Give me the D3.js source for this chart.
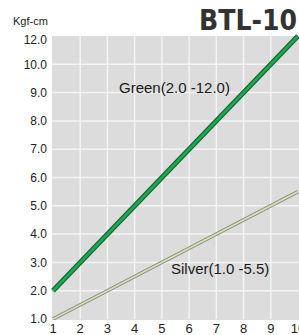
<!DOCTYPE html>
<html>
<head>
<meta charset="utf-8">
<script src="https://cdn.jsdelivr.net/npm/d3@7"></script>
<style>
  html, body { margin: 0; padding: 0; background: #fff; }
  svg { display: block; }
</style>
</head>
<body>
<div id="chart"></div>
<script>
// data
const xTicks = [1, 2, 3, 4, 5, 6, 7, 8, 9, 10];
const yTicks = [1, 2, 3, 4, 5, 6, 7, 8, 9, 10, 12];
const yTickLabels = ['1.0', '2.0', '3.0', '4.0', '5.0', '6.0', '7.0', '8.0', '9.0', '10.0', '12.0'];
const greenX = [1, 10];
const greenY = [2.0, 12.0];
const silverX = [1, 10];
const silverY = [1.0, 5.5];

const W = 299, H = 335;
const mLeft = 53, mRight = 298, mTop = 36, mBottom = 319;

const svg = d3.select('#chart').append('svg')
  .attr('width', W).attr('height', H);

const x = d3.scaleLinear().domain([1, 10]).range([mLeft, mRight]);
// the axis puts 12.0 one cell above 10.0
const unit = (mBottom - mTop) / 10;
const y = d3.scaleLinear().domain([1, 10, 12]).range([mBottom, mBottom - 9 * unit, mTop]);

// plot background
svg.append('rect')
  .attr('x', mLeft - 1).attr('y', mTop)
  .attr('width', W - mLeft + 1).attr('height', mBottom - mTop + 1)
  .attr('fill', '#dcdcdc');

const grid = svg.append('g').attr('stroke', '#f4f4f4').attr('stroke-width', 1.5);
grid.selectAll('line.v')
  .data(xTicks.slice(1, -1))
  .join('line')
  .attr('class', 'v')
  .attr('x1', d => x(d)).attr('x2', d => x(d))
  .attr('y1', mTop).attr('y2', mBottom);
grid.selectAll('line.h')
  .data(yTicks.slice(1, -1))
  .join('line')
  .attr('class', 'h')
  .attr('x1', mLeft - 1).attr('x2', W)
  .attr('y1', d => y(d)).attr('y2', d => y(d));

// y tick labels
svg.append('g')
  .selectAll('text')
  .data(yTicks)
  .join('text')
  .attr('x', 47)
  .attr('y', d => y(d) + (d === 12 ? 4 : 0))
  .attr('dy', '0.35em')
  .attr('text-anchor', 'end')
  .attr('font-family', 'Liberation Sans, Arial, sans-serif')
  .attr('font-size', 12)
  .attr('fill', '#222')
  .text((d, i) => yTickLabels[i]);

// x tick labels
svg.append('g')
  .selectAll('text')
  .data(xTicks)
  .join('text')
  .attr('x', d => x(d))
  .attr('y', 333)
  .attr('text-anchor', 'middle')
  .attr('font-family', 'Liberation Sans, Arial, sans-serif')
  .attr('font-size', 13)
  .attr('fill', '#222')
  .text(d => d);

svg.append('text')
  .attr('x', 13).attr('y', 25)
  .attr('font-family', 'Liberation Sans, Arial, sans-serif')
  .attr('font-size', 11)
  .attr('fill', '#222')
  .text('Kgf-cm');

svg.append('text')
  .attr('x', 297).attr('y', 30)
  .attr('text-anchor', 'end')
  .attr('font-family', 'DejaVu Sans Condensed, DejaVu Sans, sans-serif')
  .attr('font-stretch', 'condensed')
  .attr('font-weight', 'bold')
  .attr('font-size', 28)
  .attr('fill', '#333')
  .text('BTL-10');

const line = d3.line().x(d => x(d[0])).y(d => y(d[1]));
const green = greenX.map((v, i) => [v, greenY[i]]);
const silver = silverX.map((v, i) => [v, silverY[i]]);

svg.append('path').datum(silver).attr('d', line)
  .attr('fill', 'none').attr('stroke', '#838b6c').attr('stroke-width', 3.5);
svg.append('path').datum(silver).attr('d', line)
  .attr('fill', 'none').attr('stroke', '#d4debf').attr('stroke-width', 1.8);

svg.append('path').datum(green).attr('d', line)
  .attr('fill', 'none').attr('stroke', '#0b5e2a').attr('stroke-width', 5);
svg.append('path').datum(green).attr('d', line)
  .attr('fill', 'none').attr('stroke', '#1ea653').attr('stroke-width', 3);

svg.append('text')
  .attr('x', 119).attr('y', 93)
  .attr('font-family', 'Liberation Sans, Arial, sans-serif')
  .attr('font-size', 15)
  .attr('fill', '#1a1a1a')
  .text('Green(2.0 -12.0)');

svg.append('text')
  .attr('x', 171).attr('y', 274)
  .attr('font-family', 'Liberation Sans, Arial, sans-serif')
  .attr('font-size', 15)
  .attr('fill', '#1a1a1a')
  .text('Silver(1.0 -5.5)');
</script>
</body>
</html>
